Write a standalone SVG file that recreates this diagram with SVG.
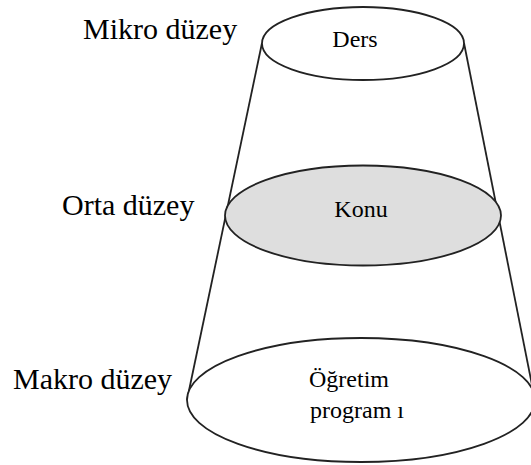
<svg xmlns="http://www.w3.org/2000/svg" width="531" height="465" viewBox="0 0 531 465">
  <style>
    .lvl { font-family: "Liberation Serif", "Times New Roman", serif; font-size: 30px; fill: #000; }
    .lbl { font-family: "Liberation Serif", "Times New Roman", serif; font-size: 24px; fill: #000; }
    .ring { stroke: #222; stroke-width: 1.8; }
    .edge { stroke: #222; stroke-width: 1.8; fill: none; }
  </style>
  <rect width="531" height="465" fill="#fff"/>

  <!-- cone sides -->
  <g id="connectors">
    <line class="edge" x1="262" y1="43" x2="187" y2="400"/>
    <line class="edge" x1="464" y1="43" x2="535" y2="400"/>
  </g>

  <!-- level names -->
  <g id="levels">
    <text class="lvl" x="83" y="39">Mikro düzey</text>
    <text class="lvl" x="62" y="215">Orta düzey</text>
    <text class="lvl" x="13" y="389">Makro düzey</text>
  </g>

  <g id="ders">
    <ellipse class="ring" cx="363" cy="43.5" rx="101" ry="36.5" fill="#fff"/>
    <text class="lbl" x="355" y="47" text-anchor="middle">Ders</text>
  </g>

  <g id="konu">
    <ellipse class="ring" cx="363" cy="215.5" rx="138" ry="50" fill="#dedede"/>
    <text class="lbl" x="361" y="217" text-anchor="middle">Konu</text>
  </g>

  <g id="ogretim-programi">
    <ellipse class="ring" cx="361" cy="400" rx="174" ry="62" fill="#fff"/>
    <text class="lbl" x="309" y="387">Öğretim</text>
    <text class="lbl" x="310" y="418">program ı</text>
  </g>
</svg>
